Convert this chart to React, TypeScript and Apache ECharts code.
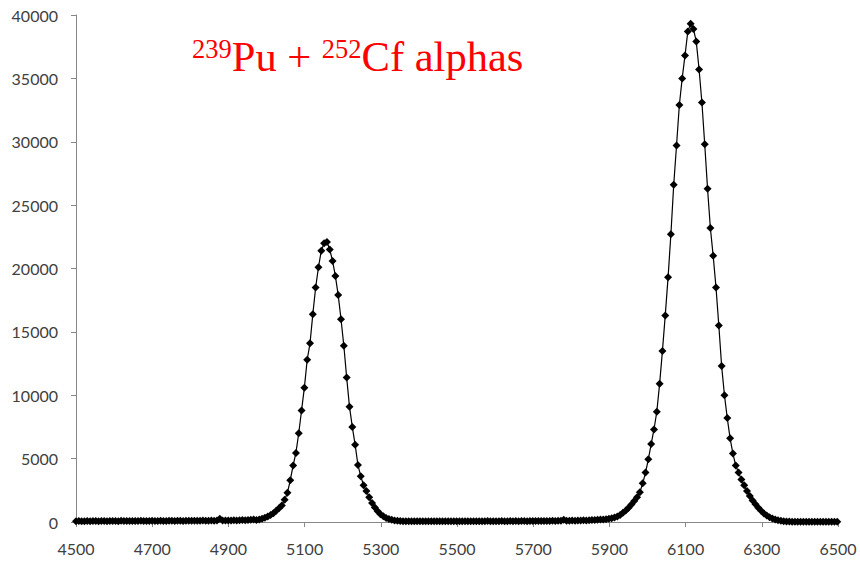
import { useEffect, useRef } from "react";
import * as echarts from "echarts";

// Energy calibration of the channel grid (keV)
const energyStart = 4500;
const energyStep = 7.4;

// Counts per channel
const countsLow = [
  60, 70, 55, 65, 80, 60, 75, 70,
  65, 85, 70, 60, 75, 80, 70, 65,
  90, 75, 70, 80, 85, 75, 70, 90,
  80, 75, 85, 95, 80, 75, 90, 85,
  80, 95, 90, 85, 100, 90, 85, 95,
  100, 90, 105, 95, 100, 110, 95, 105,
  115, 100, 110, 260, 115, 120, 110, 125,
  130, 120, 135, 150, 140, 160, 175, 190,
];
const puPeak = [
  150, 200, 260, 340, 430, 550, 700, 880, 1080, 1300,
  1750, 2300, 3300, 4450, 5450, 7000, 8800, 10600, 12800, 14100,
  16400, 18500, 20100, 21400, 22000, 22100, 21500, 20600, 19400, 17900,
  16000, 13900, 11400, 9100, 7500, 6100, 4500, 3600, 2900, 2450,
  1950, 1500, 1150, 850, 620, 450, 320, 230, 170, 120,
  90,
];
const valley = [
  70, 60, 55, 50, 60, 55, 50, 60,
  55, 50, 60, 55, 65, 50, 55, 60,
  50, 55, 65, 60, 55, 50, 60, 55,
  65, 60, 55, 60, 65, 55, 60, 70,
  60, 65, 55, 60, 70, 65, 60, 70,
  65, 70, 60, 75, 70, 65, 75, 70,
  80, 70, 75, 85, 80, 75, 90, 85,
  95, 90, 180, 100, 95, 110, 105, 120,
  115, 130, 125, 140, 150, 160, 175,
];
const cfPeak = [
  190, 200, 220, 250, 290, 350, 440, 560, 720, 900,
  1120, 1380, 1650, 1950, 2350, 3050, 3900, 4950, 6150, 7300,
  8700, 10900, 13500, 16300, 19300, 22700, 26600, 29700, 32900, 35000,
  36800, 38700, 39300, 38900, 37900, 35700, 33100, 29800, 26300, 23200,
  21000, 18500, 15500, 12300, 10000, 8200, 6600, 5400, 4450, 3900,
  3350, 2900, 2450, 2050, 1700, 1400, 1120, 880, 680, 510,
  380, 270, 190, 130, 90, 60, 40, 30,
];
const countsHigh = [25, 20, 20, 15, 20, 15, 10, 15, 10, 15, 10, 10, 15, 10, 10, 15, 10];

const counts = [...countsLow, ...puPeak, ...valley, ...cfPeak, ...countsHigh];

const xMin = 4500;
const xMax = 6500;
const xInterval = 200;
const yMin = 0;
const yMax = 40000;
const yInterval = 5000;

const titleIsotope1 = "239";
const titleElement1 = "Pu + ";
const titleIsotope2 = "252";
const titleElement2 = "Cf alphas";

export default function App() {
  const ref = useRef<HTMLDivElement>(null);

  useEffect(() => {
    if (!ref.current) return;
    const chart = echarts.init(ref.current, undefined, { renderer: "svg" });
    const seriesData = counts.map((c, i) => [energyStart + energyStep * i, c]);
    const labelFont = {
      fontFamily: "Lato, 'Open Sans', sans-serif",
      fontSize: 16,
      color: "#404040",
      formatter: (v: number) => String(v),
    };
    chart.setOption({
      animation: false,
      backgroundColor: "#ffffff",
      grid: { left: 76, right: 22, top: 15, bottom: 39, containLabel: false },
      xAxis: {
        type: "value",
        min: xMin,
        max: xMax,
        interval: xInterval,
        axisLine: { show: true, onZero: false, lineStyle: { color: "#888888", width: 1 } },
        axisTick: { show: true, inside: false, length: 5, lineStyle: { color: "#888888" } },
        axisLabel: { ...labelFont, margin: 18 },
        splitLine: { show: false },
      },
      yAxis: {
        type: "value",
        min: yMin,
        max: yMax,
        interval: yInterval,
        axisLine: { show: true, lineStyle: { color: "#888888", width: 1 } },
        axisTick: { show: true, inside: false, length: 5, lineStyle: { color: "#888888" } },
        axisLabel: { ...labelFont, margin: 18 },
        splitLine: { show: false },
      },
      series: [
        {
          type: "line",
          data: seriesData,
          symbol: "diamond",
          symbolSize: 8,
          showAllSymbol: true,
          lineStyle: { color: "#000000", width: 1.2 },
          itemStyle: { color: "#000000" },
          z: 3,
        },
      ],
      graphic: [
        {
          type: "text",
          left: 192,
          top: 35,
          style: {
            text:
              "{sup|" + titleIsotope1 + "}{main|" + titleElement1 + "}{sup|" +
              titleIsotope2 + "}{main|" + titleElement2 + "}",
            fill: "#ff0000",
            rich: {
              sup: {
                fontSize: 26.5,
                fontFamily: "'Liberation Serif', 'DejaVu Serif', serif",
                fill: "#ff0000",
                verticalAlign: "top",
                lineHeight: 28,
              },
              main: {
                fontSize: 42.5,
                fontFamily: "'Liberation Serif', 'DejaVu Serif', serif",
                fill: "#ff0000",
                verticalAlign: "bottom",
                lineHeight: 43,
              },
            },
          },
        },
      ],
    });
    return () => chart.dispose();
  }, []);

  return (
    <div
      ref={ref}
      style={{ position: "fixed", left: 0, top: 0, width: 860, height: 561 }}
    />
  );
}
